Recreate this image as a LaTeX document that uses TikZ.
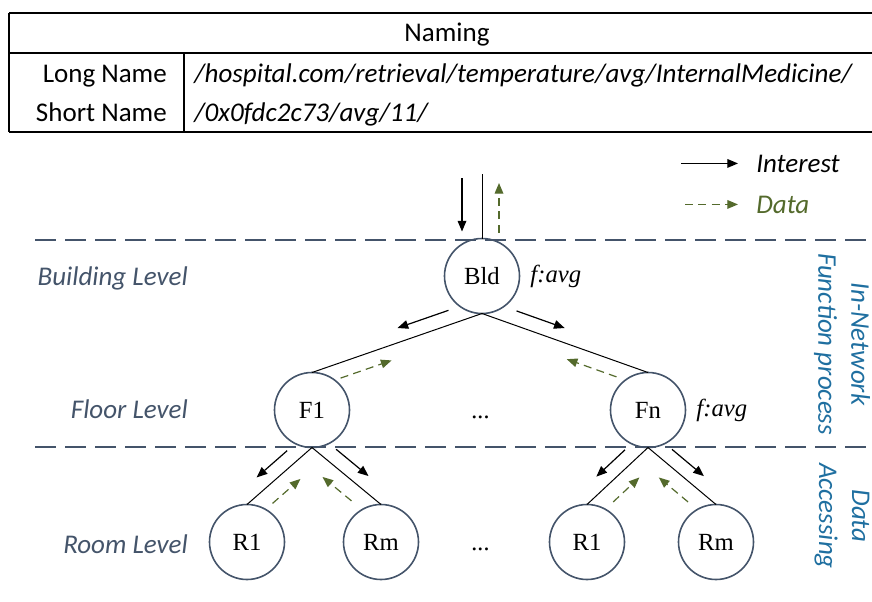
\documentclass[tikz,border=0pt]{standalone}
\usepackage{fontspec}
\setmainfont{Carlito}
\newfontfamily\nodefont{Liberation Serif}
\usepackage{tikz}
\usetikzlibrary{arrows.meta, positioning, calc}

\definecolor{slate}{HTML}{44546A}
\definecolor{datagreen}{RGB}{84,106,44}
\definecolor{sideblue}{RGB}{31,111,160}

\newcommand{\basesize}{\fontsize{20.25}{24.75}\selectfont}
\newcommand{\nodesize}{\fontsize{18.5}{21}\selectfont}

% arrow running beside a tree edge: style, parent, child, from, to, offset
\newcommand{\beside}[6]{%
  \draw[#1] ($(#2.south)!#4!(#3.north)!#6!90:(#3.north)$) -- ($(#2.south)!#5!(#3.north)!#6!90:(#3.north)$);}

\begin{document}
\begin{tikzpicture}[
  x=0.75pt, y=-0.75pt,
  >={Triangle[length=8pt, width=6.5pt]},
  font=\basesize,
  station/.style={
    circle, draw=slate, line width=1.2pt,
    minimum size=56.25pt, inner sep=0pt, outer sep=0pt,
    font=\nodefont\nodesize
  },
  link/.style={line width=0.75pt},
  interest/.style={->, line width=0.9pt},
  dataflow/.style={->, draw=datagreen, line width=0.9pt, dash pattern=on 6pt off 4pt},
  levelline/.style={draw=slate, line width=1.5pt, dash pattern=on 16pt off 6.5pt},
  lbl/.style={inner sep=0pt, font=\basesize\itshape},
  level/.style={lbl, text=slate, anchor=base east},
  fn/.style={inner sep=0pt, font=\nodefont\nodesize\itshape},
  side/.style={lbl, text=sideblue, align=center, rotate=-90},
]
\useasboundingbox (0,0) rectangle (872,601);

% --- Naming table ---
\draw[line width=1.8pt] (9,13) -- (872,13);
\draw[line width=1.4pt] (9,53) -- (872,53);
\draw[line width=1.8pt] (9,132) -- (872,132);
\draw[line width=1.8pt] (9,13) -- (9,132);
\draw[line width=1.1pt] (184,53) -- (184,132);
\node[inner sep=0pt, anchor=base] (head) at (447,41.5) {Naming};
\node[inner sep=0pt, anchor=base east] (longkey) at (167,82) {Long Name};
\node[inner sep=0pt, anchor=base east] (shortkey) at (167,121) {Short Name};
\node[lbl, anchor=base west] (longval) at (194,82) {/hospital.com/retrieval/temperature/avg/InternalMedicine/};
\node[lbl, anchor=base west] (shortval) at (194,121) {/0x0fdc2c73/avg/11/};

% --- Legend ---
\node[lbl, anchor=base west] (lgI) at (756,172) {Interest};
\node[lbl, anchor=base west, text=datagreen] (lgD) at (756,213) {Data};
\draw[interest] ($(lgI.west)+(-75,0)$) -- ($(lgI.west)+(-18,0)$);
\draw[dataflow] ($(lgD.west)+(-71,0)$) -- ($(lgD.west)+(-18,0)$);

% --- Level separators ---
\draw[levelline] (35,240) -- (872,240);
\draw[levelline] (35,447) -- (872,447);

% --- Level names ---
\node[level] (bldlevel) at (188,285.5) {Building Level};
\node[level] (floorlevel) at (188,418.5) {Floor Level};
\node[level] (roomlevel) at (188,553) {Room Level};

% --- Tree nodes ---
\node[station] (Bld) at (482,276) {Bld};
\node[station] (F1) at (312,410) {F1};
\node[station] (Fn) at (648,410) {Fn};
\node[station] (R1a) at (247,542) {R1};
\node[station] (Rma) at (381,542) {Rm};
\node[station] (R1b) at (587,542) {R1};
\node[station] (Rmb) at (716,542) {Rm};
\node[fn, right=8pt of Bld] (fBld) {f:avg};
\node[fn, right=8pt of Fn] (fFn) {f:avg};
\node[fn, anchor=base] (dotsF) at (481,418) {...};
\node[fn, anchor=base] (dotsR) at (481,550) {...};

% --- Side labels ---
\node[side] (innet) at (842,344) {In-Network\\Function process};
\node[side] (access) at (842,516) {Data\\Accessing};

% --- Edges ---
\coordinate (inlet) at (482,174);
\draw[link] (Bld.north) -- (inlet);
\draw[link] (Bld.south) -- (F1.north);
\draw[link] (Bld.south) -- (Fn.north);
\draw[link] (F1.south) -- (R1a.north);
\draw[link] (F1.south) -- (Rma.north);
\draw[link] (Fn.south) -- (R1b.north);
\draw[link] (Fn.south) -- (Rmb.north);

% --- Interest / data flows ---
\draw[interest] ($(inlet)+(-20,4)$) -- ($(Bld.north)+(-20,-7)$);
\draw[dataflow] ($(Bld.north)+(17,-6)$) -- ($(inlet)+(17,9)$);
\beside{interest}{Bld}{F1}{0.17}{0.47}{-10.5pt}
\beside{interest}{Bld}{Fn}{0.18}{0.47}{10.5pt}
\beside{dataflow}{Bld}{F1}{0.86}{0.56}{11pt}
\beside{dataflow}{Bld}{Fn}{0.84}{0.54}{-11pt}
\beside{interest}{F1}{R1a}{0.24}{0.71}{-10.5pt}
\beside{interest}{F1}{Rma}{0.22}{0.69}{10.5pt}
\beside{interest}{Fn}{R1b}{0.22}{0.69}{-10.5pt}
\beside{interest}{Fn}{Rmb}{0.22}{0.69}{10.5pt}
\beside{dataflow}{F1}{R1a}{0.77}{0.34}{12pt}
\beside{dataflow}{F1}{Rma}{0.72}{0.30}{-12pt}
\beside{dataflow}{Fn}{R1b}{0.75}{0.32}{12pt}
\beside{dataflow}{Fn}{Rmb}{0.74}{0.31}{-12pt}

\end{tikzpicture}
\end{document}
